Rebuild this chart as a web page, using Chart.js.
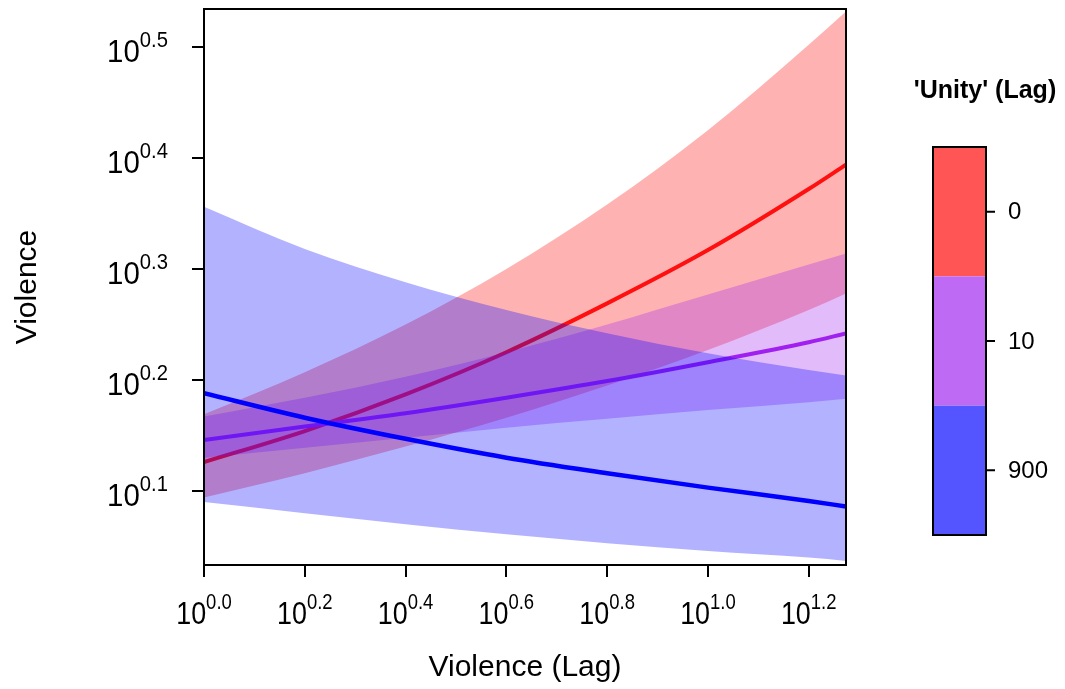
<!DOCTYPE html>
<html>
<head>
<meta charset="utf-8">
<script src="https://cdn.jsdelivr.net/npm/chart.js@4.4.1/dist/chart.umd.min.js"></script>
<style>
  html, body { margin: 0; padding: 0; background: #fff; }
  #wrap { width: 1065px; height: 689px; }
</style>
</head>
<body>
<div id="wrap"><canvas id="chart" width="1065" height="689"></canvas></div>
<script>
// --- Data (log10 exponents) ---
const lagExp = [0, 0.2, 0.4, 0.6, 0.8, 1.0, 1.2, 1.274];

const redFit   = [0.126, 0.154, 0.187, 0.225, 0.269, 0.317, 0.372, 0.394];
const redUpper = [0.169, 0.207, 0.250, 0.300, 0.358, 0.425, 0.502, 0.532];
const redLower = [0.094, 0.116, 0.140, 0.166, 0.195, 0.227, 0.263, 0.278];

const purpleFit   = [0.146, 0.158, 0.170, 0.184, 0.199, 0.216, 0.234, 0.242];
const purpleUpper = [0.167, 0.184, 0.203, 0.225, 0.250, 0.277, 0.304, 0.314];
const purpleLower = [0.130, 0.139, 0.148, 0.157, 0.165, 0.173, 0.180, 0.183];

const blueFit   = [0.188, 0.166, 0.147, 0.130, 0.116, 0.103, 0.091, 0.086];
const blueUpper = [0.356, 0.318, 0.288, 0.263, 0.242, 0.224, 0.209, 0.204];
const blueLower = [0.090, 0.080, 0.070, 0.061, 0.053, 0.046, 0.040, 0.037];

const xTickVals = [0, 0.2, 0.4, 0.6, 0.8, 1.0, 1.2];
const yTickVals = [0.1, 0.2, 0.3, 0.4, 0.5];

const legendTitle = "'Unity' (Lag)";
const legendLabels = ['0', '10', '900'];
const legendColors = ['#ff5555', '#bf6af5', '#5555ff'];

// --- Helpers ---
const FONT = '"Liberation Sans", Arial, sans-serif';

function pts(arr) {
    return lagExp.map((x, i) => ({ x: x, y: arr[i] }));
}

function bandSets(upper, lower, fitVals, lineColor, fillColor, fillTarget, order, lw) {
    return [
        { data: pts(upper), borderWidth: 0, borderColor: 'transparent', pointRadius: 0,
          fill: fillTarget, backgroundColor: fillColor, order: order + 1 },
        { data: pts(lower), borderWidth: 0, borderColor: 'transparent', pointRadius: 0,
          fill: false, order: order + 1 },
        { data: pts(fitVals), borderWidth: lw, borderColor: lineColor, pointRadius: 0,
          fill: false, order: order }
    ];
}

// draws "10" with a raised exponent
function drawPow(ctx, x, baseY, v, align, sx) {
    const exp = v.toFixed(1);
    ctx.font = '32px ' + FONT;
    const wb = ctx.measureText('10').width * sx;
    ctx.font = '22px ' + FONT;
    const we = ctx.measureText(exp).width * sx;
    const total = wb + we;
    const startX = align === 'center' ? x - total / 2 : x - total;
    ctx.save();
    ctx.translate(startX, baseY);
    ctx.scale(sx, 1);
    ctx.textAlign = 'left';
    ctx.textBaseline = 'alphabetic';
    ctx.font = '32px ' + FONT;
    ctx.fillText('10', 0, 0);
    ctx.font = '22px ' + FONT;
    ctx.fillText(exp, wb / sx, -15);
    ctx.restore();
}

const axesPlugin = {
    id: 'axesPlugin',
    afterDraw(chart) {
        const ctx = chart.ctx;
        const a = chart.chartArea;
        const xs = chart.scales.x, ys = chart.scales.y;
        ctx.save();
        ctx.fillStyle = '#000';
        ctx.strokeStyle = '#000';
        ctx.lineWidth = 2;
        ctx.strokeRect(a.left, a.top, a.right - a.left, a.bottom - a.top);

        ctx.beginPath();
        xTickVals.forEach(v => {
            const px = Math.round(xs.getPixelForValue(v));
            ctx.moveTo(px, a.bottom);
            ctx.lineTo(px, a.bottom + 12);
        });
        yTickVals.forEach(v => {
            const py = Math.round(ys.getPixelForValue(v));
            ctx.moveTo(a.left, py);
            ctx.lineTo(a.left - 12, py);
        });
        ctx.stroke();

        xTickVals.forEach(v => drawPow(ctx, xs.getPixelForValue(v), a.bottom + 59, v, 'center', 0.84));
        yTickVals.forEach(v => drawPow(ctx, a.left - 36, ys.getPixelForValue(v) + 15, v, 'right', 0.92));

        // colour key
        const kx = 933, kw = 53, ky = 147, kh = 388;
        const seg = kh / legendLabels.length;
        legendColors.forEach((c, i) => {
            ctx.fillStyle = c;
            ctx.fillRect(kx, ky + i * seg, kw, seg);
        });
        ctx.strokeRect(kx, ky, kw, kh);
        ctx.fillStyle = '#000';
        ctx.font = '24px ' + FONT;
        ctx.textAlign = 'left';
        ctx.textBaseline = 'middle';
        ctx.beginPath();
        legendLabels.forEach((lab, i) => {
            const cy = ky + (i + 0.5) * seg;
            ctx.moveTo(kx + kw, cy);
            ctx.lineTo(kx + kw + 9, cy);
            ctx.fillText(lab, kx + kw + 22, cy + 1);
        });
        ctx.stroke();
        ctx.font = 'bold 25px ' + FONT;
        ctx.textAlign = 'center';
        ctx.textBaseline = 'alphabetic';
        ctx.fillText(legendTitle, 985, 98);
        ctx.restore();
    }
};

const datasets = [].concat(
    bandSets(redUpper, redLower, redFit, '#ff1010', 'rgba(255,0,0,0.3)', 1, 8, 4),
    bandSets(purpleUpper, purpleLower, purpleFit, '#a020f0', 'rgba(160,32,240,0.3)', 4, 6, 4),
    bandSets(blueUpper, blueLower, blueFit, '#0000ff', 'rgba(0,0,255,0.3)', 7, 4, 4.5)
);

new Chart(document.getElementById('chart'), {
    type: 'line',
    data: { datasets: datasets },
    options: {
        responsive: false,
        animation: false,
        events: [],
        layout: { padding: { left: 0, right: 219, top: 9, bottom: 0 } },
        elements: { line: { cubicInterpolationMode: 'monotone' } },
        plugins: { legend: { display: false }, tooltip: { enabled: false } },
        scales: {
            x: {
                type: 'linear', min: 0, max: 1.274,
                grid: { display: false }, border: { display: false },
                ticks: { display: false },
                title: { display: true, text: 'Violence (Lag)', color: '#000',
                         font: { family: FONT, size: 30 }, padding: { top: 0, bottom: 3 } },
                afterFit: s => { s.height = 124; }
            },
            y: {
                type: 'linear', min: 0.0333, max: 0.5342,
                grid: { display: false }, border: { display: false },
                ticks: { display: false },
                title: { display: true, text: 'Violence', color: '#000',
                         font: { family: FONT, size: 30 }, padding: { top: 10, bottom: 0 } },
                afterFit: s => { s.width = 204; }
            }
        }
    },
    plugins: [axesPlugin]
});
</script>
</body>
</html>
